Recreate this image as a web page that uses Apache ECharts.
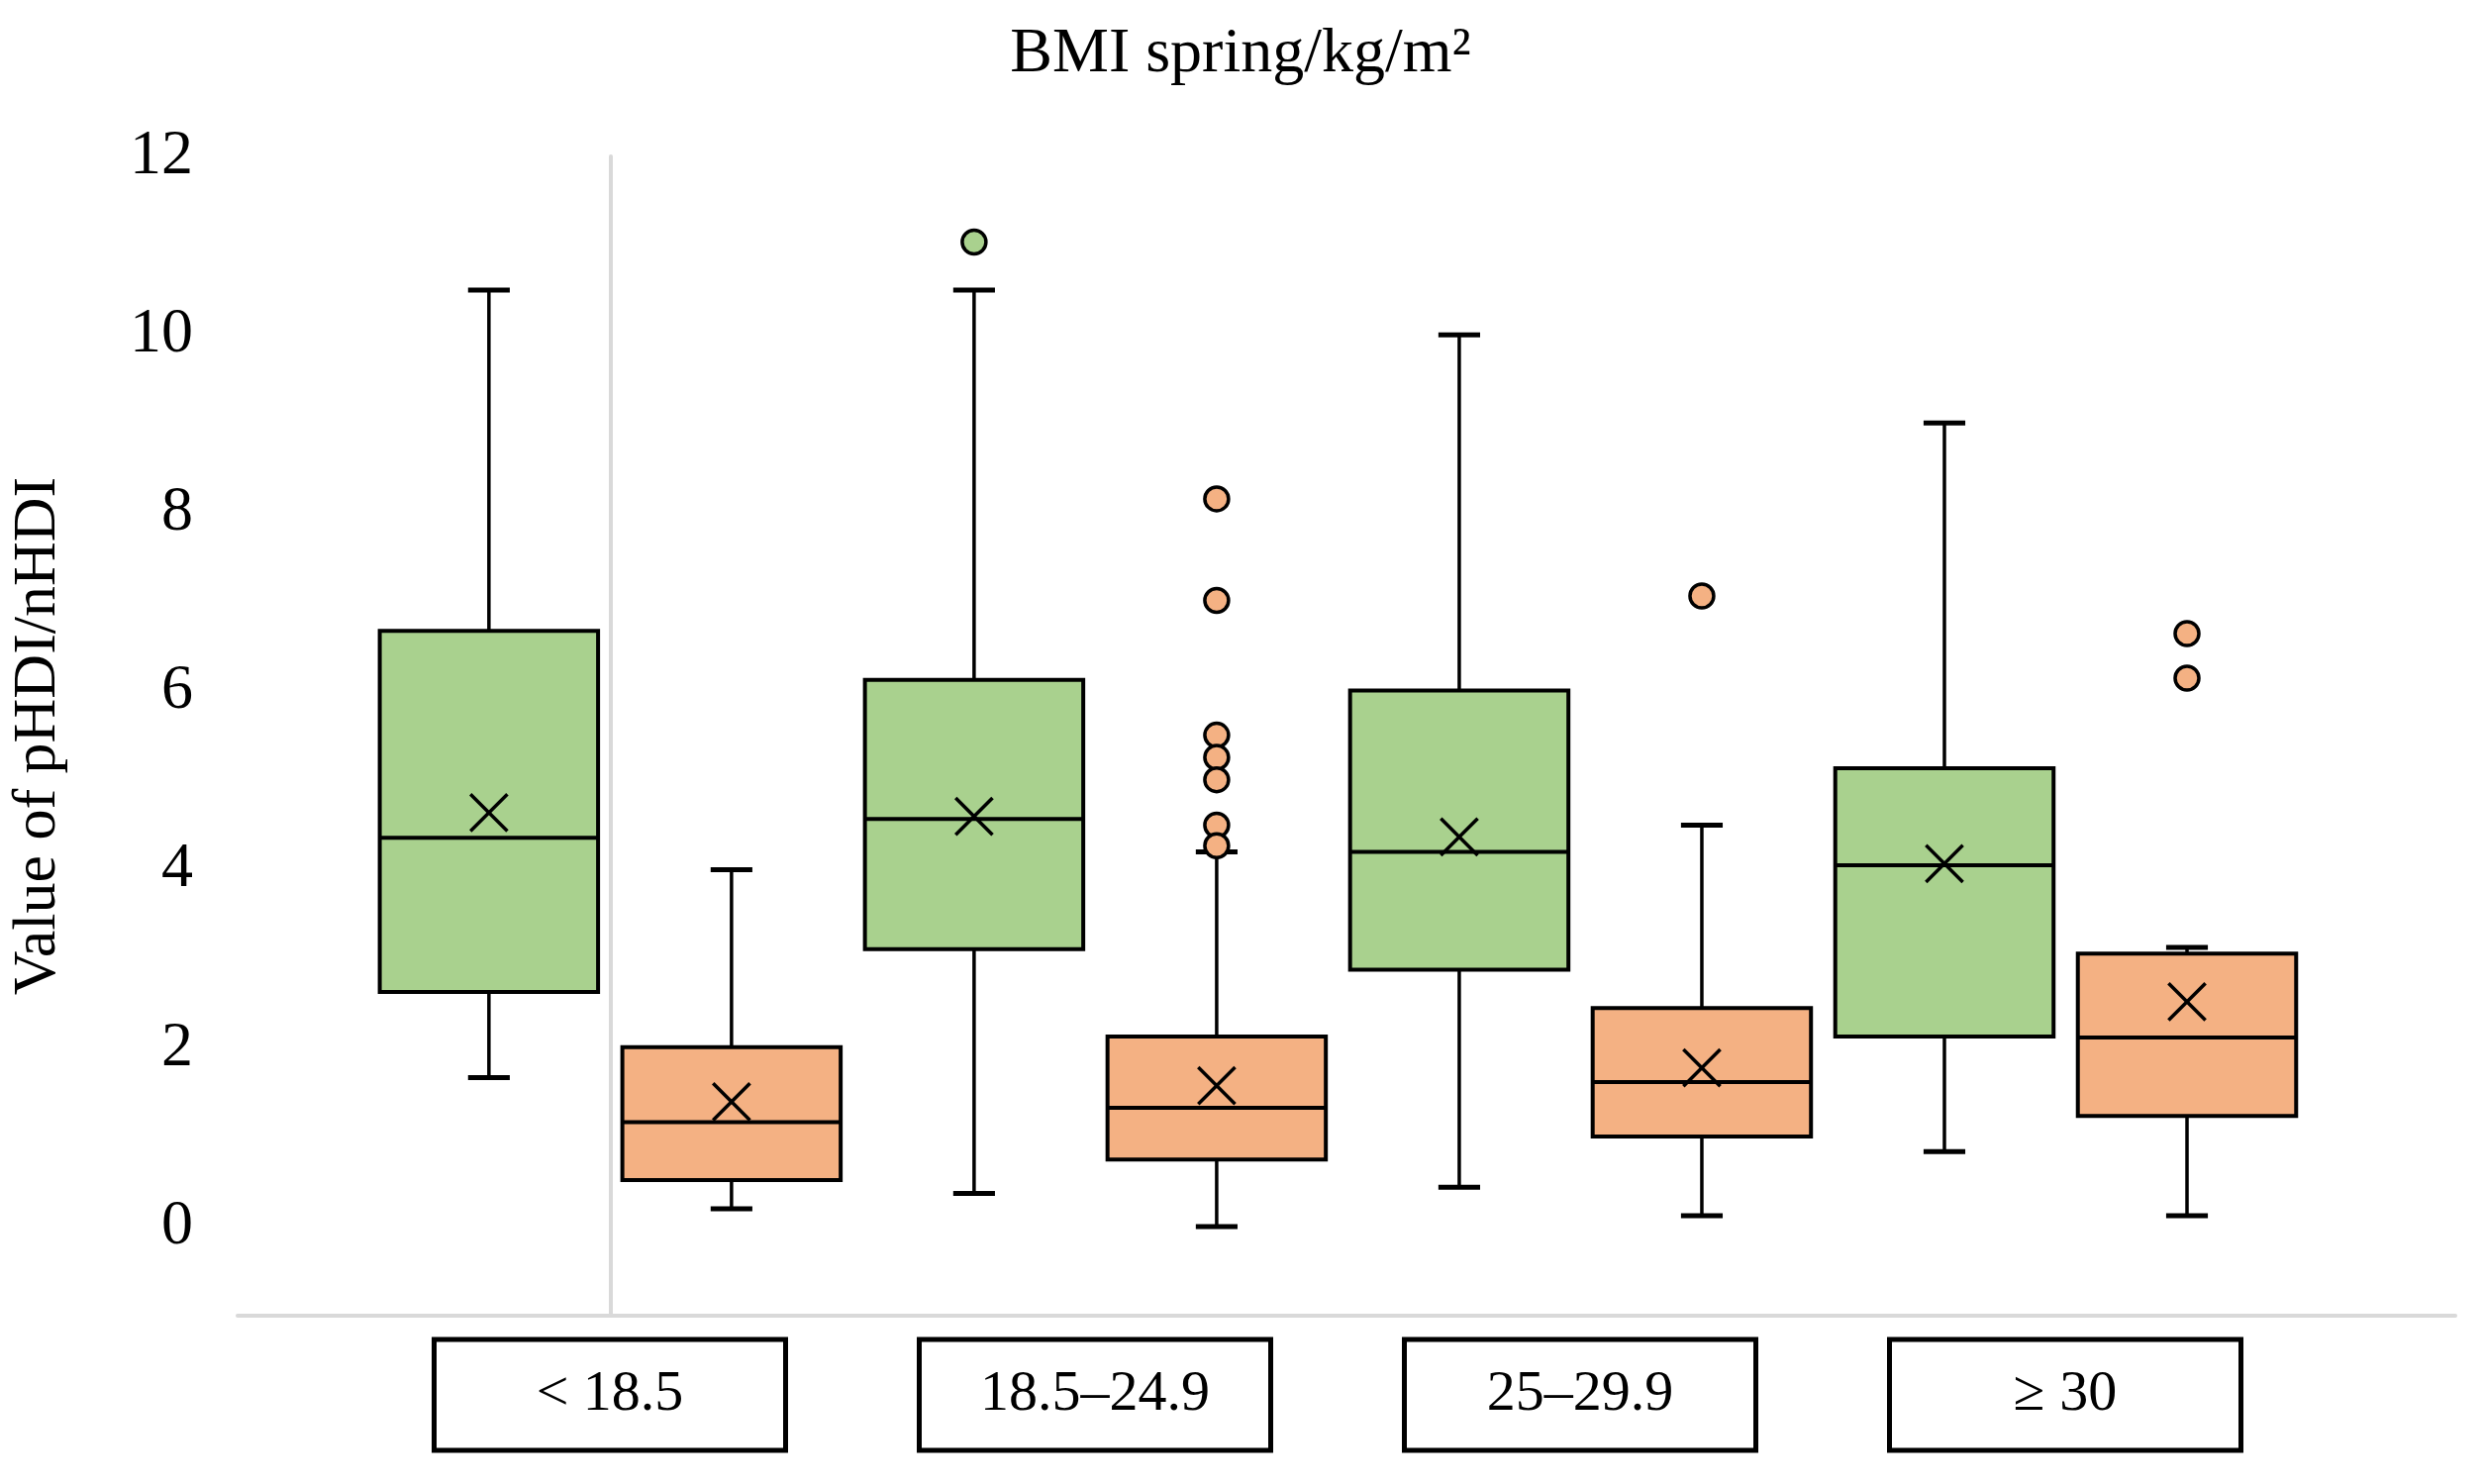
<!DOCTYPE html>
<html><head><meta charset="utf-8">
<script src="https://cdn.jsdelivr.net/npm/echarts@6/dist/echarts.min.js"></script>
<style>html,body{margin:0;padding:0;background:#fff}#c{width:2510px;height:1499px}</style>
</head><body><div id="c"></div>
<script>
const categories = ['< 18.5', '18.5–24.9', '25–29.9', '≥ 30'];
// [min, Q1, median, Q3, max, mean]
const pHDI = [
  [1.67, 2.63, 4.36, 6.68, 10.5, 4.64],
  [0.37, 3.11, 4.57, 6.13, 10.5, 4.6],
  [0.44, 2.88, 4.2, 6.01, 10.0, 4.37],
  [0.84, 2.13, 4.05, 5.14, 9.01, 4.07]
];
const nHDI = [
  [0.2, 0.52, 1.17, 2.01, 4.0, 1.4],
  [0.0, 0.75, 1.33, 2.13, 4.2, 1.58],
  [0.12, 1.01, 1.62, 2.45, 4.5, 1.78],
  [0.12, 1.24, 2.12, 3.06, 3.13, 2.52]
];
const pHDIOutliers = [[1, 11.04]];
const nHDIOutliers = [[1, 8.16], [1, 7.02], [1, 5.51], [1, 5.26], [1, 5.01], [1, 4.5], [1, 4.27], [2, 7.07], [3, 6.65], [3, 6.15]];
const yTicks = [0, 2, 4, 6, 8, 10, 12];

const GREEN = '#a9d18e', ORANGE = '#f4b183';
const OFF = 0.25, HALFW = 0.225, CAP = 0.043, XS = 0.038;
const font = 'Liberation Serif';

function boxData(arr, off) { return arr.map((d, i) => [i + off].concat(d)); }

function renderBox(color) {
  return function (params, api) {
    const x = api.value(0);
    const v = [1,2,3,4,5,6].map(k => api.value(k));
    const p = y => api.coord([x, y]);
    const xl = api.coord([x - HALFW, 0])[0], xr = api.coord([x + HALFW, 0])[0];
    const cl = api.coord([x - CAP, 0])[0], cr = api.coord([x + CAP, 0])[0];
    const xsl = api.coord([x - XS, 0])[0], xsr = api.coord([x + XS, 0])[0];
    const cx = p(0)[0];
    const yMin = p(v[0])[1], yQ1 = p(v[1])[1], yMed = p(v[2])[1], yQ3 = p(v[3])[1], yMax = p(v[4])[1], yMean = p(v[5])[1];
    const dy = (xsr - xsl) / 2;
    const ls = { stroke: '#000', lineWidth: 3.5 };
    return { type: 'group', children: [
      { type: 'line', shape: { x1: cx, y1: yQ3, x2: cx, y2: yMax }, style: ls },
      { type: 'line', shape: { x1: cx, y1: yQ1, x2: cx, y2: yMin }, style: ls },
      { type: 'line', shape: { x1: cl, y1: yMax, x2: cr, y2: yMax }, style: { stroke: '#000', lineWidth: 5 } },
      { type: 'line', shape: { x1: cl, y1: yMin, x2: cr, y2: yMin }, style: { stroke: '#000', lineWidth: 5 } },
      { type: 'rect', shape: { x: xl, y: yQ3, width: xr - xl, height: yQ1 - yQ3 }, style: { fill: color, stroke: '#000', lineWidth: 4 } },
      { type: 'line', shape: { x1: xl, y1: yMed, x2: xr, y2: yMed }, style: { stroke: '#000', lineWidth: 4 } },
      { type: 'line', shape: { x1: xsl, y1: yMean - dy, x2: xsr, y2: yMean + dy }, style: { stroke: '#000', lineWidth: 3.5 } },
      { type: 'line', shape: { x1: xsl, y1: yMean + dy, x2: xsr, y2: yMean - dy }, style: { stroke: '#000', lineWidth: 3.5 } }
    ]};
  };
}

const chart = echarts.init(document.getElementById('c'));
chart.setOption({
  backgroundColor: '#fff',
  animation: false,
  title: { text: 'BMI spring/kg/m²', left: 1248, top: 18, textAlign: 'center',
    textStyle: { fontFamily: font, fontSize: 64, fontWeight: 'normal', color: '#000' } },
  grid: [
    { left: 240, right: 30, top: 158, bottom: 170 },
    { left: 371, width: 1960, top: 158, bottom: 170 }
  ],
  xAxis: [
    { type: 'value', gridIndex: 0, min: -0.768, max: 3.803, splitLine: { show: false },
      axisLine: { show: true, onZero: false, lineStyle: { color: '#d9d9d9', width: 4 } },
      axisTick: { show: false }, axisLabel: { show: false } },
    { type: 'category', gridIndex: 1, data: categories, axisLine: { show: false }, axisTick: { show: false },
      axisLabel: { margin: 24, fontFamily: font, fontSize: 58, color: '#000', width: 355, height: 112,
        align: 'center', verticalAlign: 'top', lineHeight: 112, borderColor: '#000', borderWidth: 5, overflow: 'none' } }
  ],
  yAxis: [
    { type: 'value', gridIndex: 0, min: -1, max: 12, interval: 1, splitLine: { show: false },
      name: 'Value of pHDI/nHDI', nameLocation: 'middle', nameGap: 170, nameRotate: 90,
      nameTextStyle: { fontFamily: font, fontSize: 62, color: '#000' },
      axisLine: { show: true, lineStyle: { color: '#d9d9d9', width: 4 } }, axisTick: { show: false },
      axisLabel: { margin: 45, fontFamily: font, fontSize: 64, color: '#000',
        formatter: v => (yTicks.indexOf(v) >= 0 ? String(v) : '') } },
    { type: 'value', gridIndex: 1, min: -1, max: 12, show: false }
  ],
  series: [
    { type: 'custom', xAxisIndex: 0, yAxisIndex: 0, renderItem: renderBox(GREEN), data: boxData(pHDI, -OFF), z: 2 },
    { type: 'custom', xAxisIndex: 0, yAxisIndex: 0, renderItem: renderBox(ORANGE), data: boxData(nHDI, OFF), z: 2 },
    { type: 'scatter', xAxisIndex: 0, yAxisIndex: 0, symbolSize: 24, z: 3,
      itemStyle: { color: GREEN, borderColor: '#000', borderWidth: 3.5, opacity: 1 },
      data: pHDIOutliers.map(d => [d[0] - OFF, d[1]]) },
    { type: 'scatter', xAxisIndex: 0, yAxisIndex: 0, symbolSize: 24, z: 3,
      itemStyle: { color: ORANGE, borderColor: '#000', borderWidth: 3.5, opacity: 1 },
      data: nHDIOutliers.map(d => [d[0] + OFF, d[1]]) }
  ]
});
</script></body></html>
